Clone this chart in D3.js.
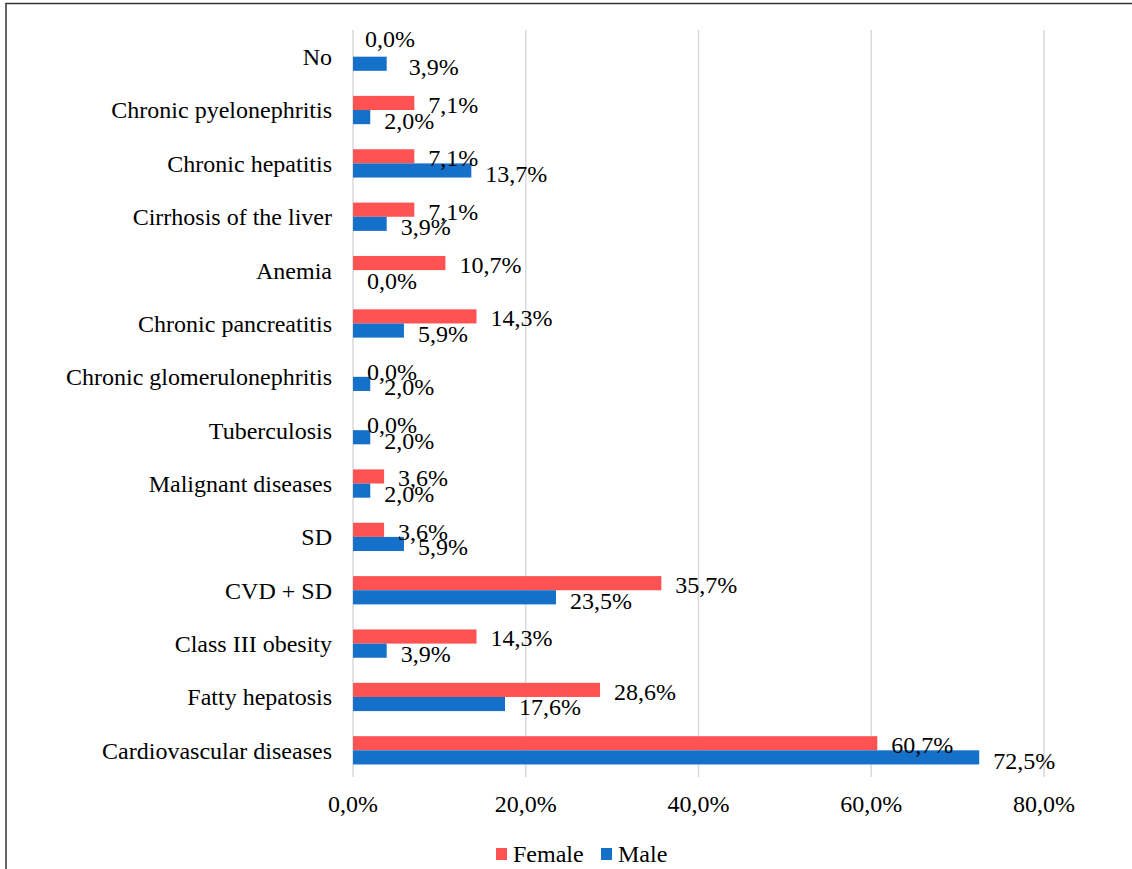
<!DOCTYPE html>
<head>
  <meta charset="utf-8">
  <script src="https://d3js.org/d3.v7.min.js"></script>
  <style>
  body { margin: 0; background: #fff; }
  .grid line { stroke: #d9d9d9; stroke-width: 1.5px; }
  </style>
</head>

<body>
  <script>
    // data (percent)
    var categories = ["No", "Chronic pyelonephritis", "Chronic hepatitis", "Cirrhosis of the liver",
                      "Anemia", "Chronic pancreatitis", "Chronic glomerulonephritis", "Tuberculosis",
                      "Malignant diseases", "SD", "CVD + SD", "Class III obesity", "Fatty hepatosis",
                      "Cardiovascular diseases"];
    var female = [0.0, 7.1, 7.1, 7.1, 10.7, 14.3, 0.0, 0.0, 3.6, 3.6, 35.7, 14.3, 28.6, 60.7];
    var male   = [3.9, 2.0, 13.7, 3.9, 0.0, 5.9, 2.0, 2.0, 2.0, 5.9, 23.5, 3.9, 17.6, 72.5];
    var seriesNames = ["Female", "Male"];
    var seriesColors = ["#ff5353", "#1570c9"];
    var xTicks = [0, 20, 40, 60, 80];

    var W = 1132, H = 869;
    var fmt = function(v) { return v.toFixed(1).replace(".", ",") + "%"; };

    // label nudges that were hand-moved in the original
    var nudge = { "No": { Female: [-2, -13], Male: [8, 0] } };

    var svg = d3.select("body").append("svg")
        .attr("width", W).attr("height", H)
        .attr("font-family", "'Liberation Serif', 'Times New Roman', Times, 'DejaVu Serif', serif")
        .attr("fill", "#000");

    // outer frame
    svg.append("rect")
      .attr("x", 6).attr("y", 3.5)
      .attr("width", W + 20).attr("height", H + 20)
      .attr("fill", "none").attr("stroke", "#333").attr("stroke-width", 1.5);

    var x = d3.scaleLinear().domain([0, 80]).range([353, 1044]);

    var y0 = d3.scaleBand().domain(categories).range([30, 777])
        .paddingInner(0.47).paddingOuter(0.235);
    var y1 = d3.scaleBand().domain(seriesNames).range([0, y0.bandwidth()]);

    // gridlines
    svg.append("g").attr("class", "grid")
      .selectAll("line").data(xTicks).enter().append("line")
      .attr("x1", function(d) { return x(d); }).attr("x2", function(d) { return x(d); })
      .attr("y1", 30).attr("y2", 777);

    // x tick labels
    svg.append("g").selectAll("text").data(xTicks).enter().append("text")
      .attr("x", function(d) { return x(d); })
      .attr("y", 812)
      .attr("text-anchor", "middle")
      .attr("font-size", "24px")
      .text(function(d) { return d.toFixed(1).replace(".", ",") + "%"; });

    // category labels
    svg.append("g").selectAll("text").data(categories).enter().append("text")
      .attr("x", 332)
      .attr("y", function(d) { return y0(d) + y0.bandwidth() / 2; })
      .attr("dy", "0.35em")
      .attr("text-anchor", "end")
      .attr("font-size", "24px")
      .text(function(d) { return d; });

    var rows = categories.map(function(c, i) {
      return { cat: c, vals: [{ s: "Female", v: female[i] }, { s: "Male", v: male[i] }] };
    });

    var groups = svg.append("g").selectAll("g").data(rows).enter().append("g")
      .attr("transform", function(d) { return "translate(0," + y0(d.cat) + ")"; });

    groups.selectAll("rect").data(function(d) { return d.vals; }).enter().append("rect")
      .attr("x", x(0))
      .attr("y", function(d) { return y1(d.s); })
      .attr("width", function(d) { return x(d.v) - x(0); })
      .attr("height", y1.bandwidth())
      .attr("fill", function(d) { return seriesColors[seriesNames.indexOf(d.s)]; });

    groups.selectAll("text").data(function(d) {
        return d.vals.map(function(v) { return { cat: d.cat, s: v.s, v: v.v }; });
      }).enter().append("text")
      .attr("x", function(d) {
        var n = nudge[d.cat] ? nudge[d.cat][d.s][0] : 0;
        return x(d.v) + 14 + n;
      })
      .attr("y", function(d) {
        var n = nudge[d.cat] ? nudge[d.cat][d.s][1] : 0;
        return y1(d.s) + y1.bandwidth() / 2 + (d.s === "Female" ? 1.5 : 3) + n;
      })
      .attr("dy", "0.35em")
      .attr("font-size", "24px")
      .text(function(d) { return fmt(d.v); });

    // legend
    var legX = [496, 601];
    var legend = svg.append("g").selectAll("g").data(seriesNames).enter().append("g")
      .attr("transform", function(d, i) { return "translate(" + legX[i] + ",848)"; });
    legend.append("rect")
      .attr("width", 11).attr("height", 12)
      .attr("fill", function(d, i) { return seriesColors[i]; });
    legend.append("text")
      .attr("x", 17).attr("y", 14)
      .attr("font-size", "24px")
      .text(function(d) { return d; });
  </script>
</body>
